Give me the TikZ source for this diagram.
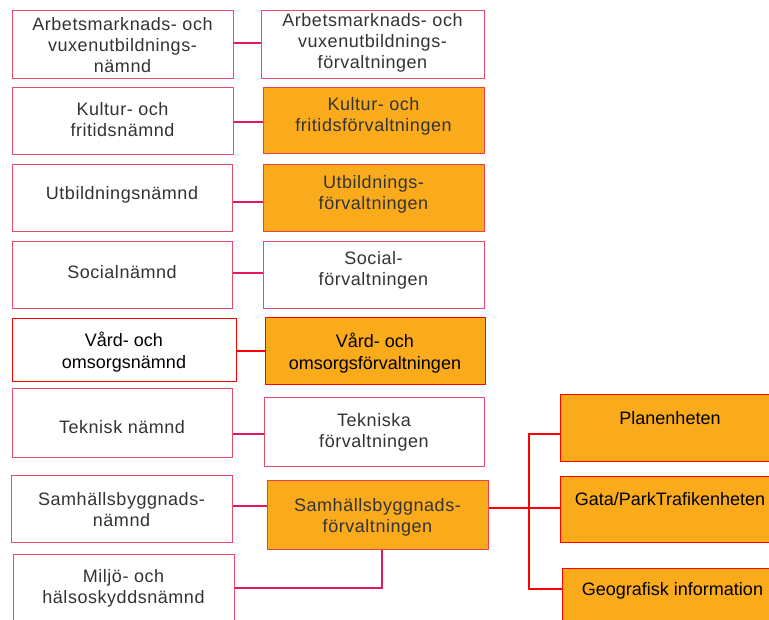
\documentclass[tikz,border=0pt]{standalone}
\usepackage{fontspec}
\setmainfont{Liberation Sans}
\newfontfamily\trackfont[LetterSpace=3]{Liberation Sans}
\definecolor{pinkb}{HTML}{EC4A6E}
\definecolor{redb}{HTML}{F0404A}
\definecolor{conncol}{HTML}{E2185A}
\definecolor{orangef}{HTML}{FAAB1B}
\definecolor{txtgray}{HTML}{333333}
\tikzset{
  wbox/.style={draw=pinkb, line width=1pt, fill=white, rectangle, inner sep=0pt},
  obox/.style={draw=redb, line width=1pt, fill=orangef, rectangle, inner sep=0pt},
  ttxt/.style={inner sep=0pt, align=center, text=txtgray, font=\trackfont\fontsize{18}{21}\selectfont},
  ptxt/.style={inner sep=0pt, align=center, text=black, font=\fontsize{18}{22}\selectfont},
  conn/.style={draw=conncol, line width=2pt},
  rconn/.style={draw=red, line width=1.5pt},
}
\begin{document}
\begin{tikzpicture}[x=1pt,y=-1pt]
\useasboundingbox (0,0) rectangle (769,619);
\clip (0,0) rectangle (769,619);
% left column
\node[wbox, minimum width=221pt, minimum height=68pt] (a1) at (122.5,44) {};
\node[wbox, minimum width=221pt, minimum height=67pt] (k1) at (122.5,120.5) {};
\node[wbox, minimum width=220pt, minimum height=67pt] (u1) at (122,197.5) {};
\node[wbox, minimum width=220pt, minimum height=67pt] (s1) at (122,274.5) {};
\node[draw=red, line width=1pt, fill=white, inner sep=0pt, minimum width=224pt, minimum height=63pt] (v1) at (124,349.5) {};
\node[wbox, minimum width=220pt, minimum height=69pt] (t1) at (122,422.5) {};
\node[wbox, minimum width=221pt, minimum height=67pt] (sb1) at (121.5,508.5) {};
\node[wbox, minimum width=221pt, minimum height=67pt] (m1) at (123.5,587.5) {};
% middle column
\node[wbox, minimum width=223pt, minimum height=68pt] (a2) at (372.5,44) {};
\node[obox, minimum width=221pt, minimum height=66pt] (k2) at (373.5,120) {};
\node[obox, minimum width=221pt, minimum height=67pt] (u2) at (373.5,197.5) {};
\node[wbox, minimum width=221pt, minimum height=67pt] (s2) at (373.5,274.5) {};
\node[obox, draw=red, minimum width=220pt, minimum height=67pt] (v2) at (375,350.5) {};
\node[wbox, minimum width=220pt, minimum height=69pt] (t2) at (374,431.5) {};
\node[obox, minimum width=221pt, minimum height=69pt] (sb2) at (377.5,514.5) {};
% right column
\node[obox, draw=red, minimum width=220pt, minimum height=67pt] (plan) at (670,427.5) {};
\node[obox, draw=red, minimum width=220pt, minimum height=66pt] (gata) at (670,509) {};
\node[obox, draw=red, minimum width=220pt, minimum height=67pt] (geo) at (672,601.5) {};
% texts
\node[ttxt] (a1t) at (122.5,45) {Arbetsmarknads- och\\vuxenutbildnings-\\nämnd};
\node[ttxt] (a2t) at (372.5,43) {Arbetsmarknads- och\\vuxenutbildnings-\\förvaltningen};
\node[ttxt] (k1t) at (122.5,120) {Kultur- och\\fritidsnämnd};
\node[ttxt] (k2t) at (373.5,116.5) {Kultur- och\\fritidsförvaltningen};
\node[ttxt] (u1t) at (122,195) {Utbildningsnämnd};
\node[ttxt] (u2t) at (373.5,194.5) {Utbildnings-\\förvaltningen};
\node[ttxt] (s1t) at (122,272) {Socialnämnd};
\node[ttxt] (s2t) at (373.5,270.5) {Social-\\förvaltningen};
\node[ptxt] (v1t) at (124,352) {Vård- och\\omsorgsnämnd};
\node[ptxt] (v2t) at (375,353.5) {Vård- och\\omsorgsförvaltningen};
\node[ttxt] (t1t) at (122,427) {Teknisk nämnd};
\node[ttxt] (t2t) at (374,432.5) {Tekniska\\förvaltningen};
\node[ttxt] (sb1t) at (121.5,509.5) {Samhällsbyggnads-\\nämnd};
\node[ttxt] (sb2t) at (377.5,517.5) {Samhällsbyggnads-\\förvaltningen};
\node[ttxt] (m1t) at (123.5,588.5) {Miljö- och\\hälsoskyddsnämnd};
\node[ptxt] (plant) at (670,418) {Planenheten};
\node[ptxt] (gatat) at (670,499) {Gata/ParkTrafikenheten};
\node[ptxt] (geot) at (672.5,591) {Geografisk information};
% connectors
\coordinate (ya) at (0,43);
\coordinate (yk) at (0,122);
\coordinate (yu) at (0,202);
\coordinate (ys) at (0,273);
\coordinate (yv) at (0,351);
\coordinate (yt) at (0,434);
\coordinate (ysb) at (0,506);
\draw[conn] (a1.east |- ya) -- (a2.west |- ya);
\draw[conn] (k1.east |- yk) -- (k2.west |- yk);
\draw[conn] (u1.east |- yu) -- (u2.west |- yu);
\draw[conn] (s1.east |- ys) -- (s2.west |- ys);
\draw[draw=red, line width=2pt] (v1.east |- yv) -- (v2.west |- yv);
\draw[conn] (t1.east |- yt) -- (t2.west |- yt);
\draw[conn] (sb1.east |- ysb) -- (sb2.west |- ysb);
\coordinate (mj) at (382,588);
\draw[conn] (m1.east |- mj) -- (mj) -- (mj |- sb2.south);
\coordinate (pb) at (529,434);
\coordinate (gb) at (529,508);
\coordinate (geob) at (529,589);
\draw[rconn] (plan.west |- pb) -- (pb) -- (geob) -- (geo.west |- geob);
\draw[rconn] (sb2.east |- gb) -- (gata.west |- gb);
\end{tikzpicture}
\end{document}
